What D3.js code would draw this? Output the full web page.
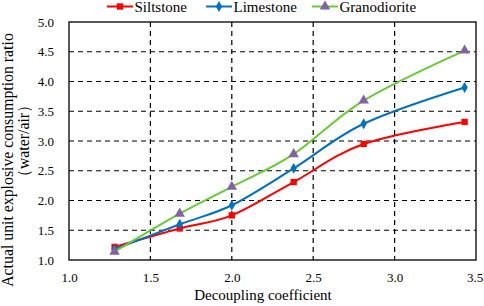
<!DOCTYPE html>
<html>
<head>
<meta charset="utf-8">
<script src="https://cdn.jsdelivr.net/npm/d3@7/dist/d3.min.js"></script>
<style>
  body { margin: 0; background: #fff; }
  svg text { font-family: "Liberation Serif", "Times New Roman", serif; fill: #000; }
</style>
</head>
<body>
<div id="chart"></div>
<script>
var coefficients = [1.28, 1.68, 2.0, 2.38, 2.81, 3.43];
var siltstone    = [1.22, 1.53, 1.75, 2.31, 2.95, 3.32];
var limestone    = [1.18, 1.60, 1.92, 2.54, 3.29, 3.90];
var granodiorite = [1.14, 1.78, 2.23, 2.78, 3.68, 4.52];
var xTicks = [1.0, 1.5, 2.0, 2.5, 3.0, 3.5];
var yTicks = [1.0, 1.5, 2.0, 2.5, 3.0, 3.5, 4.0, 4.5, 5.0];
var seriesNames = ['Siltstone', 'Limestone', 'Granodiorite'];

var series = [
	{ name: seriesNames[0], values: siltstone, line: '#ff0000', mark: '#ff0000', symbol: d3.symbolSquare, size: 40 },
	{ name: seriesNames[1], values: limestone, line: '#0070c0', mark: '#0070c0', symbol: d3.symbolDiamond, size: 34 },
	{ name: seriesNames[2], values: granodiorite, line: '#66cc33', mark: '#8064a2', symbol: d3.symbolTriangle, size: 48 }
];

var width = 484, height = 306;
var margin = { top: 22, right: 8, bottom: 46, left: 69 };
var w = width - margin.left - margin.right,
	h = height - margin.top - margin.bottom;

var svg = d3.select('#chart').append('svg')
	.attr('width', width)
	.attr('height', height);

var g = svg.append('g')
	.attr('transform', 'translate(' + margin.left + ',' + margin.top + ')');

var x = d3.scaleLinear().domain([1, 3.5]).range([0, w]);
var y = d3.scaleLinear().domain([1, 5]).range([h, 0]);

// dashed grid
g.selectAll('.vgrid')
	.data(xTicks.slice(1, -1))
	.enter().append('line')
		.attr('x1', function (d) { return x(d); })
		.attr('x2', function (d) { return x(d); })
		.attr('y1', 0).attr('y2', h)
		.attr('stroke', '#000').attr('stroke-width', 1.2)
		.attr('stroke-dasharray', '5,4');

g.selectAll('.hgrid')
	.data(yTicks.slice(1, -1))
	.enter().append('line')
		.attr('y1', function (d) { return y(d); })
		.attr('y2', function (d) { return y(d); })
		.attr('x1', 0).attr('x2', w)
		.attr('stroke', '#000').attr('stroke-width', 1.2)
		.attr('stroke-dasharray', '5,4');

g.append('rect')
	.attr('width', w).attr('height', h)
	.attr('fill', 'none').attr('stroke', '#000').attr('stroke-width', 1.3);

// axes labels
var xAxis = g.append('g')
	.attr('transform', 'translate(0,' + h + ')')
	.call(d3.axisBottom(x).tickValues(xTicks).tickFormat(d3.format('.1f')).tickSize(0).tickPadding(13));
xAxis.select('.domain').remove();
xAxis.selectAll('text')
	.style('font-size', '13px')
	.attr('dx', function (d) { return d === 3.5 ? -1.5 : 0; });

var yAxis = g.append('g')
	.call(d3.axisLeft(y).tickValues(yTicks).tickFormat(d3.format('.1f')).tickSize(0).tickPadding(15));
yAxis.select('.domain').remove();
yAxis.selectAll('text').style('font-size', '13px');

svg.append('text')
	.attr('x', 263)
	.attr('y', 300)
	.attr('text-anchor', 'middle')
	.style('font-size', '15px')
	.text('Decoupling coefficient');

svg.append('text')
	.attr('transform', 'translate(13,160) rotate(-90)')
	.attr('text-anchor', 'middle')
	.style('font-size', '15.8px')
	.text('Actual unit explosive consumption ratio');

svg.append('text')
	.attr('transform', 'translate(29,141) rotate(-90)')
	.attr('text-anchor', 'middle')
	.style('font-size', '15.8px')
	.text('（water/air）');

// lines
var line = d3.line()
	.curve(d3.curveCatmullRom.alpha(0))
	.x(function (d, i) { return x(coefficients[i]); })
	.y(function (d) { return y(d); });

var groups = g.selectAll('.series')
	.data(series)
	.enter().append('g')
		.attr('class', 'series');

groups.append('path')
	.attr('d', function (d) { return line(d.values); })
	.attr('fill', 'none')
	.attr('stroke', function (d) { return d.line; })
	.attr('stroke-width', 2);

groups.each(function (s) {
	d3.select(this).selectAll('path.mark')
		.data(s.values)
		.enter().append('path')
			.attr('class', 'mark')
			.attr('transform', function (d, i) { return 'translate(' + x(coefficients[i]) + ',' + y(d) + ')'; })
			.attr('d', d3.symbol().type(s.symbol).size(s.size))
			.attr('fill', s.mark);
});

// legend
var legendX = [107, 206, 312];
var legend = svg.selectAll('.legend')
	.data(series)
	.enter().append('g')
		.attr('class', 'legend')
		.attr('transform', function (d, i) { return 'translate(' + legendX[i] + ',6.5)'; });

legend.append('line')
	.attr('x1', 0).attr('x2', 26)
	.attr('stroke', function (d) { return d.line; })
	.attr('stroke-width', 2);

legend.append('path')
	.attr('transform', 'translate(13,0)')
	.attr('d', function (d) { return d3.symbol().type(d.symbol).size(d.size)(); })
	.attr('fill', function (d) { return d.mark; });

legend.append('text')
	.attr('x', 27.5)
	.attr('y', 5)
	.style('font-size', '15px')
	.text(function (d) { return d.name; });
</script>
</body>
</html>
